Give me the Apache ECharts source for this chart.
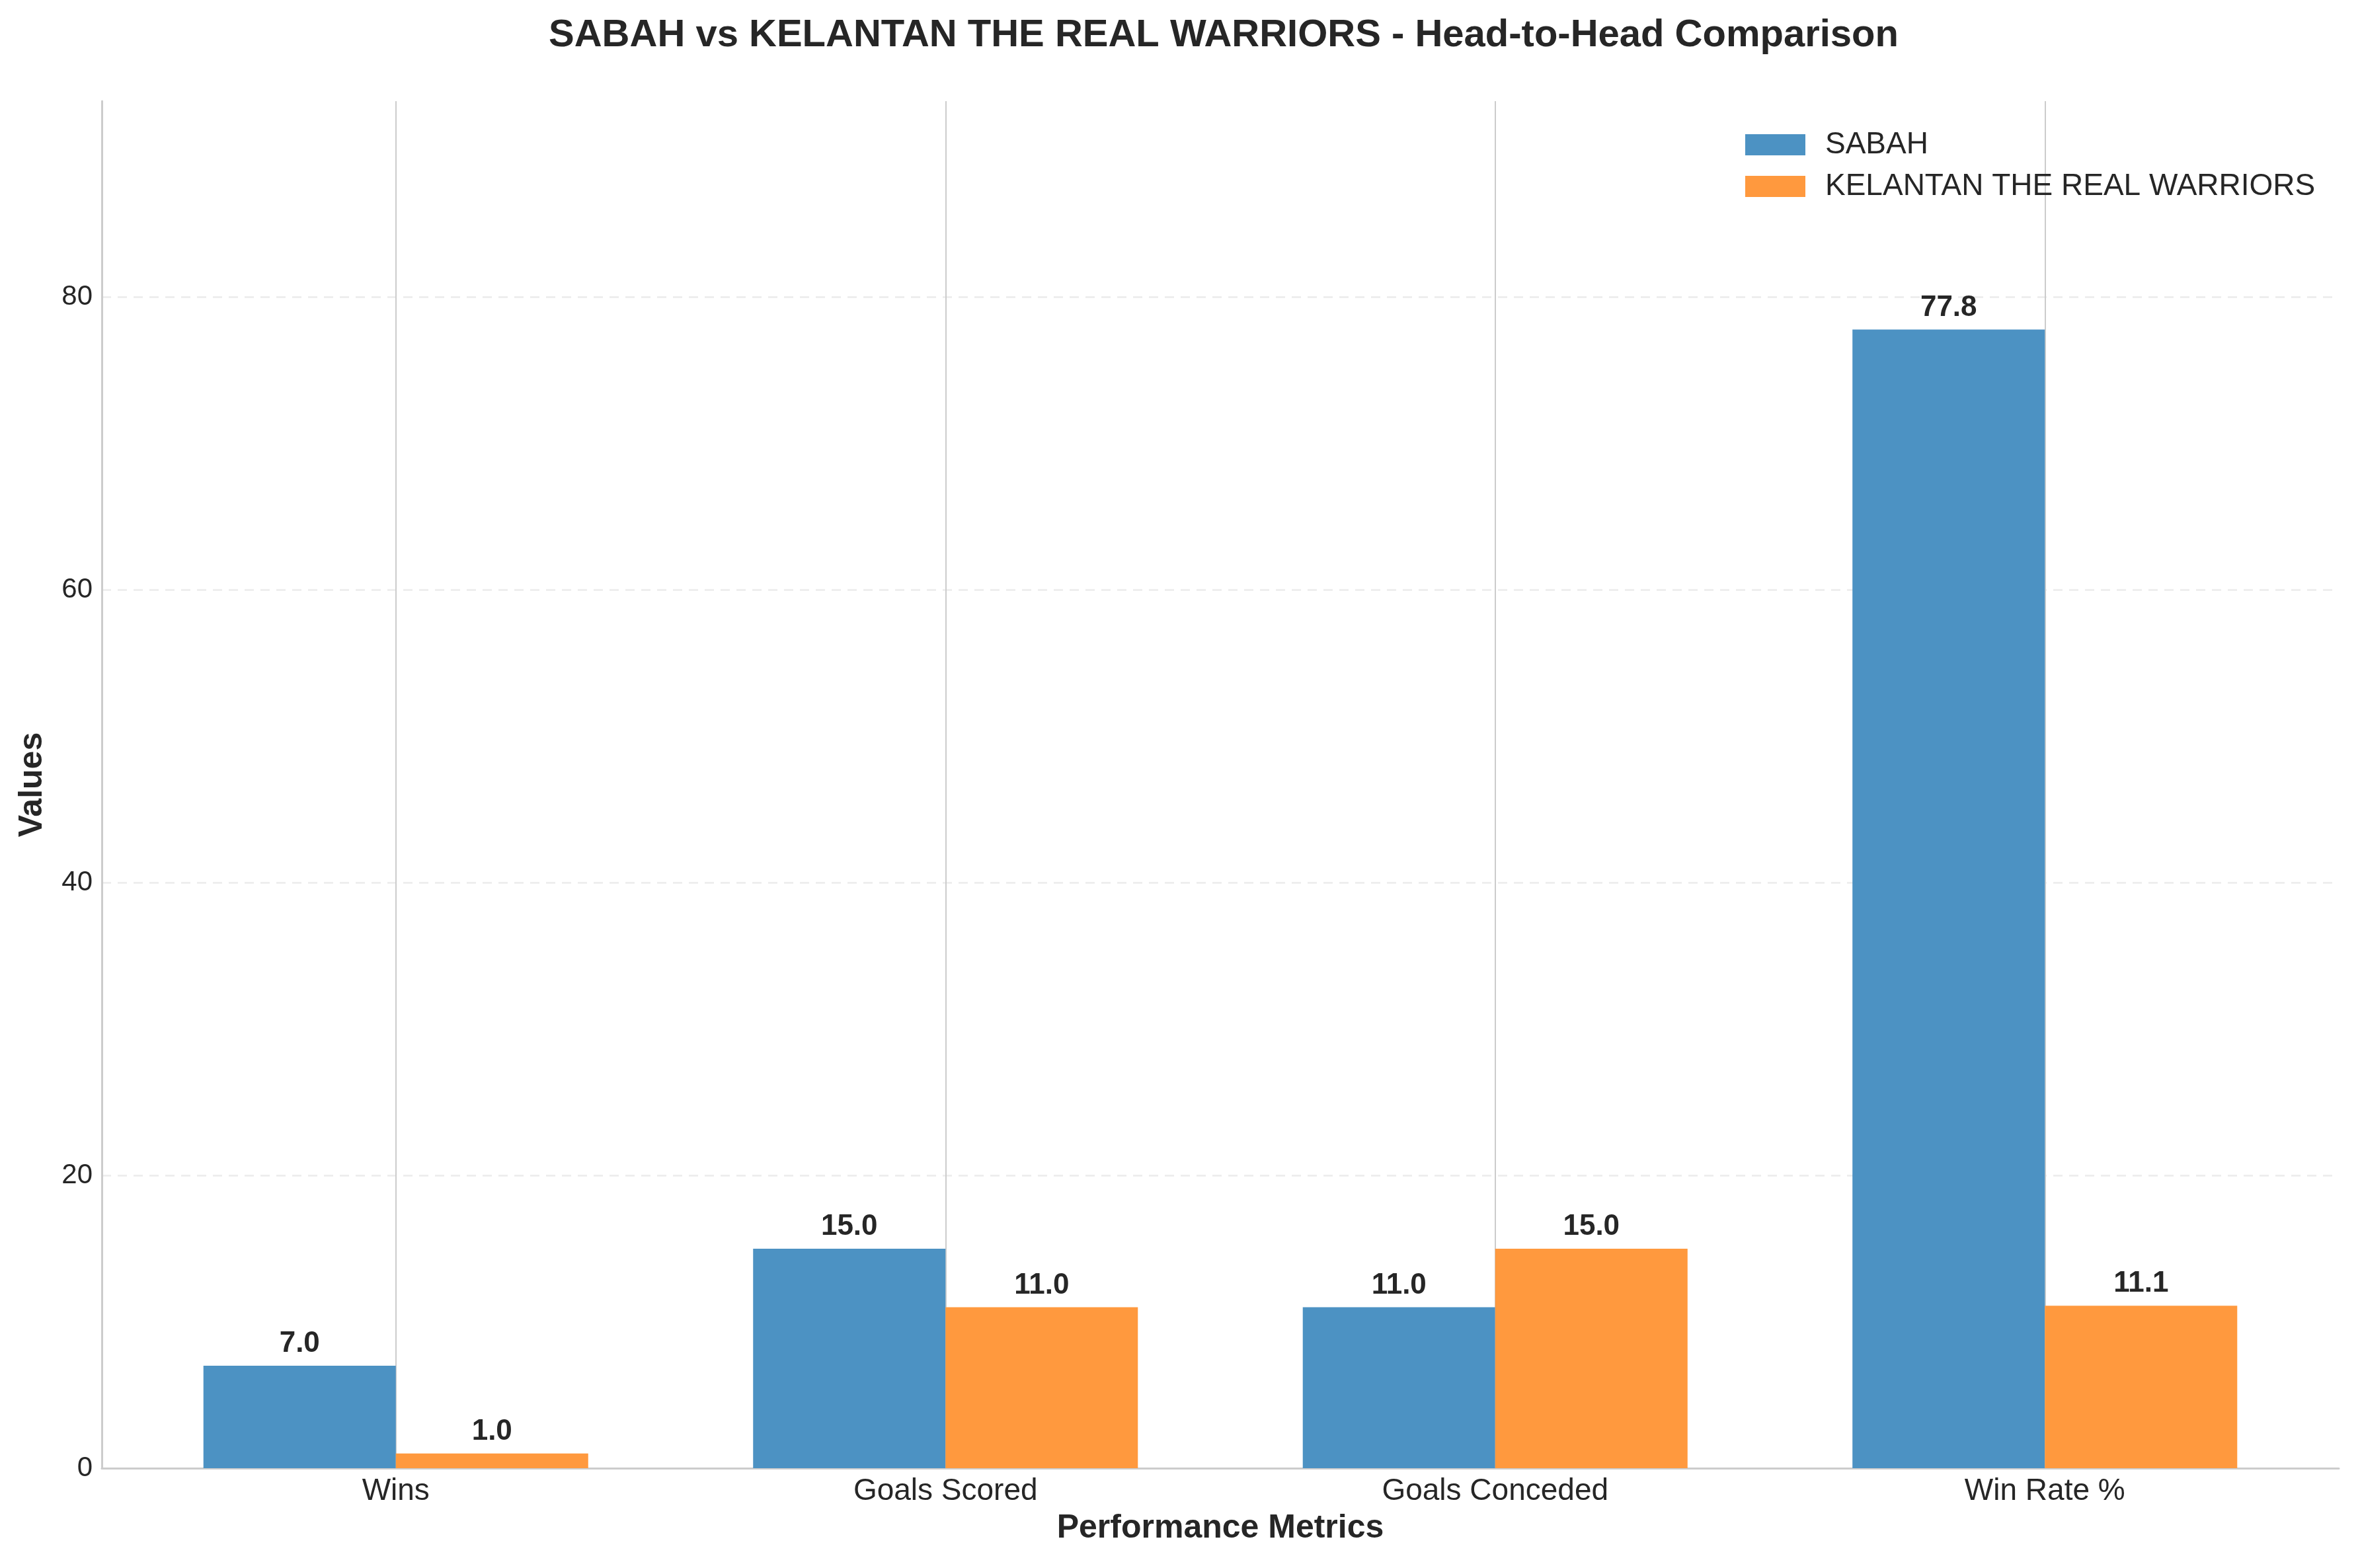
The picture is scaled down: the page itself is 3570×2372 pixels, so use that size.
<!DOCTYPE html>
<html>
<head>
<meta charset="utf-8">
<script src="https://cdn.jsdelivr.net/npm/echarts@6/dist/echarts.min.js"></script>
<style>
  html, body { margin: 0; padding: 0; background: #fff; }
  #chart { width: 3570px; height: 2372px; }
</style>
</head>
<body>
<div id="chart"></div>
<script>
// data
const metrics = ['Wins', 'Goals Scored', 'Goals Conceded', 'Win Rate %']
const sabah = [7.0, 15.0, 11.0, 77.8]
const kelantan = [1.0, 11.0, 15.0, 11.1]
const yTicks = [0, 20, 40, 60, 80]

const FONT = 'Liberation Sans, Arial, sans-serif'
const TXT = '#262626'
const yMax = 93.4

const myChart = echarts.init(document.getElementById('chart'))

const barLabel = {
  show: true,
  position: 'top',
  distance: 11,
  fontFamily: FONT,
  fontSize: 44,
  fontWeight: 'bold',
  color: TXT,
  formatter: p => p.value.toFixed(1)
}

const option = {
  backgroundColor: '#ffffff',
  animation: false,
  textStyle: { fontFamily: FONT },
  title: {
    text: 'SABAH vs KELANTAN THE REAL WARRIORS - Head-to-Head Comparison',
    left: 1846,
    textAlign: 'center',
    top: 20,
    textStyle: { fontFamily: FONT, fontSize: 58, fontWeight: 'bold', color: TXT }
  },
  legend: {
    orient: 'vertical',
    left: 2635,
    top: 191,
    itemWidth: 91,
    itemHeight: 32,
    itemGap: 17,
    icon: 'rect',
    textStyle: { fontFamily: FONT, fontSize: 46, color: TXT, padding: [0, 0, 0, 25] },
    data: ['SABAH', 'KELANTAN THE REAL WARRIORS']
  },
  grid: [
    // bars
    { left: 183, right: 61, top: 153, bottom: 151 },
    // frame: spines + horizontal grid
    { left: 154, right: 32, top: 153, bottom: 151 }
  ],
  xAxis: [
    {
      type: 'category',
      gridIndex: 0,
      data: metrics,
      axisLine: { show: false },
      axisTick: { show: false },
      axisLabel: { fontFamily: FONT, fontSize: 46, color: TXT, margin: 12 },
      splitLine: { show: true, alignWithLabel: true, lineStyle: { color: '#cccccc', width: 2 } }
    },
    {
      type: 'value',
      gridIndex: 1,
      min: 0,
      max: 1,
      name: 'Performance Metrics',
      nameLocation: 'middle',
      nameGap: 66,
      nameTextStyle: { fontFamily: FONT, fontSize: 50, fontWeight: 'bold', color: TXT },
      axisLine: { show: true, lineStyle: { color: '#cccccc', width: 3 } },
      axisTick: { show: false },
      axisLabel: { show: false },
      splitLine: { show: false }
    }
  ],
  yAxis: [
    {
      type: 'value',
      gridIndex: 0,
      min: 0,
      max: yMax,
      show: false
    },
    {
      type: 'value',
      gridIndex: 1,
      min: 0,
      max: yMax,
      interval: 20,
      name: 'Values',
      nameLocation: 'middle',
      nameGap: 80,
      nameTextStyle: { fontFamily: FONT, fontSize: 50, fontWeight: 'bold', color: TXT },
      axisLine: { show: true, lineStyle: { color: '#cccccc', width: 3 } },
      axisTick: { show: false },
      axisLabel: {
        fontFamily: FONT, fontSize: 42, color: TXT, margin: 14,
        showMaxLabel: false,
        formatter: v => (yTicks.includes(v) ? String(v) : '')
      },
      splitLine: {
        show: true,
        showMinLine: false,
        showMaxLine: false,
        lineStyle: { color: '#ebebeb', width: 2.5, type: [14, 10] }
      }
    }
  ],
  series: [
    {
      name: 'SABAH',
      type: 'bar',
      xAxisIndex: 0,
      yAxisIndex: 0,
      barWidth: '35%',
      barGap: '0%',
      itemStyle: { color: '#4c92c3' },
      label: barLabel,
      data: sabah
    },
    {
      name: 'KELANTAN THE REAL WARRIORS',
      type: 'bar',
      xAxisIndex: 0,
      yAxisIndex: 0,
      barWidth: '35%',
      barGap: '0%',
      itemStyle: { color: '#ff993e' },
      label: barLabel,
      data: kelantan
    }
  ]
}

myChart.setOption(option)
</script>
</body>
</html>
